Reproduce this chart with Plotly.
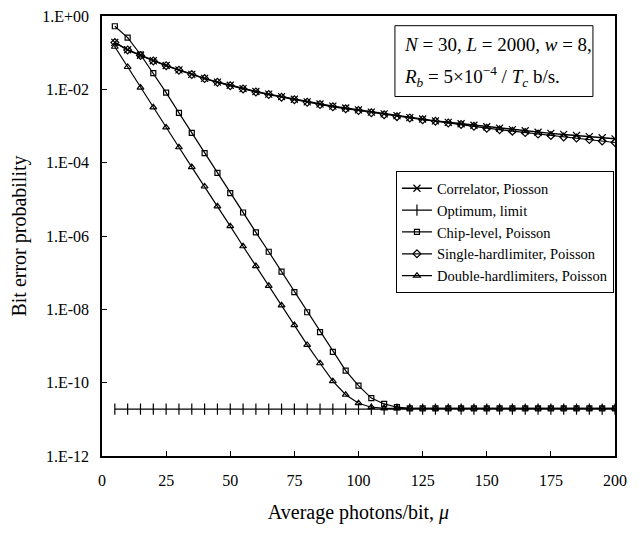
import plotly.graph_objects as go

mu = [5, 10, 15, 20, 25, 30, 35, 40, 45, 50, 55, 60, 65, 70, 75, 80, 85, 90, 95, 100,
      105, 110, 115, 120, 125, 130, 135, 140, 145, 150, 155, 160, 165, 170, 175, 180, 185, 190, 195, 200]

correlator = [0.191, 0.120, 0.0851, 0.0603, 0.0447, 0.0339, 0.0257, 0.0200, 0.0158, 0.0129,
              0.0105, 0.00871, 0.00741, 0.00631, 0.00537, 0.00457, 0.00398, 0.00347, 0.00309, 0.00275,
              0.00240, 0.00214, 0.00191, 0.00170, 0.00155, 0.00138, 0.00126, 0.00115, 0.00105, 0.000955,
              0.000871, 0.000794, 0.000741, 0.000676, 0.000631, 0.000589, 0.000550, 0.000513, 0.000479, 0.000447]

optimum = [1.9e-11] * 40

chip_level = [0.525, 0.257, 0.0891, 0.0275, 0.00813, 0.00229, 0.000646, 0.000182, 5.25e-5, 1.48e-5,
              4.37e-6, 1.26e-6, 3.72e-7, 1.07e-7, 2.95e-8, 8.32e-9, 2.40e-9, 6.92e-10, 2.14e-10, 8.32e-11,
              3.80e-11, 2.63e-11, 2.14e-11, 2.0e-11, 2.0e-11, 2.0e-11, 2.0e-11, 2.0e-11, 2.0e-11, 2.0e-11,
              2.0e-11, 2.0e-11, 2.0e-11, 2.0e-11, 2.0e-11, 2.0e-11, 2.0e-11, 2.0e-11, 2.0e-11, 2.0e-11]

single_hl = [0.188, 0.118, 0.0838, 0.0594, 0.0440, 0.0333, 0.0252, 0.0196, 0.0155, 0.0126,
             0.0102, 0.00848, 0.00720, 0.00612, 0.00520, 0.00442, 0.00384, 0.00334, 0.00296, 0.00263,
             0.00229, 0.00203, 0.00180, 0.00166, 0.00148, 0.00135, 0.00120, 0.00110, 0.000977, 0.000871,
             0.000794, 0.000724, 0.000661, 0.000603, 0.000550, 0.000501, 0.000468, 0.000427, 0.000389, 0.000355]

double_hl = [0.145, 0.0407, 0.0112, 0.00324, 0.000912, 0.000263, 7.59e-5, 2.24e-5, 6.46e-6, 1.86e-6,
             5.25e-7, 1.51e-7, 4.37e-8, 1.29e-8, 3.72e-9, 1.07e-9, 3.39e-10, 1.10e-10, 4.68e-11, 2.75e-11,
             2.14e-11, 2.0e-11, 2.0e-11, 2.0e-11, 2.0e-11, 2.0e-11, 2.0e-11, 2.0e-11, 2.0e-11, 2.0e-11,
             2.0e-11, 2.0e-11, 2.0e-11, 2.0e-11, 2.0e-11, 2.0e-11, 2.0e-11, 2.0e-11, 2.0e-11, 2.0e-11]

x_ticks = [0, 25, 50, 75, 100, 125, 150, 175, 200]
y_ticks = [1, 1e-2, 1e-4, 1e-6, 1e-8, 1e-10, 1e-12]
y_tick_text = ["1.E+00", "1.E-02", "1.E-04", "1.E-06", "1.E-08", "1.E-10", "1.E-12"]

FONT = "Liberation Serif, Times New Roman, serif"

series = [
    ("Correlator, Piosson", correlator, "x-thin-open", 7, 1.4),
    ("Optimum, limit", optimum, "line-ns-open", 8, 1.2),
    ("Chip-level, Poisson", chip_level, "square-open", 5, 1.2),
    ("Single-hardlimiter, Poisson", single_hl, "diamond-open", 6, 1.2),
    ("Double-hardlimiters, Poisson", double_hl, "triangle-up-open", 6, 1.2),
]

fig = go.Figure()
for name, vals, sym, size, lw in series:
    fig.add_trace(go.Scatter(
        x=mu, y=vals, name=name, mode="lines+markers",
        line=dict(color="black", width=lw),
        marker=dict(symbol=sym, size=size, color="black", line=dict(color="black", width=1.2)),
    ))

fig.update_layout(
    width=642, height=533,
    margin=dict(l=102, r=27, t=8, b=77),
    paper_bgcolor="white", plot_bgcolor="white",
    font=dict(family=FONT, color="black", size=16),
    showlegend=True,
    legend=dict(
        x=0.573, y=0.647, xanchor="left", yanchor="top",
        bordercolor="black", borderwidth=1, bgcolor="white",
        font=dict(family=FONT, size=14.5, color="black"),
        tracegroupgap=0,
    ),
    xaxis=dict(
        range=[0, 200], tickvals=x_ticks, ticks="inside", ticklen=5, tickwidth=1,
        tickcolor="black", showline=True, linecolor="black", linewidth=1.5, mirror=True,
        showgrid=False, zeroline=False, ticklabelstandoff=9,
        tickfont=dict(size=16),
        title=dict(text="Average photons/bit, <i>μ</i>", font=dict(size=20), standoff=17),
    ),
    yaxis=dict(
        type="log", range=[-12, 0], tickvals=y_ticks, ticktext=y_tick_text,
        ticks="inside", ticklen=5, tickwidth=1, tickcolor="black",
        showline=True, linecolor="black", linewidth=1.5, mirror=True,
        showgrid=False, zeroline=False, ticklabelstandoff=8,
        tickfont=dict(size=16),
        title=dict(text="Bit error probability", font=dict(size=20), standoff=10),
    ),
)

fig.add_shape(type="rect", xref="paper", yref="paper", x0=0.571, x1=0.957, y0=0.817, y1=0.978,
              line=dict(color="black", width=1), fillcolor="white", layer="below")
fig.add_annotation(xref="paper", yref="paper", x=0.585, y=0.935, xanchor="left", yanchor="middle",
                   showarrow=False, font=dict(family=FONT, size=19, color="black"),
                   text="<i>N</i> = 30, <i>L</i> = 2000, <i>w</i> = 8,")
fig.add_annotation(xref="paper", yref="paper", x=0.585, y=0.862, xanchor="left", yanchor="middle",
                   showarrow=False, font=dict(family=FONT, size=19, color="black"),
                   text="<i>R</i><sub><i>b</i></sub> = 5×10<sup>−4</sup> / <i>T</i><sub><i>c</i></sub> b/s.")

fig.write_html("out.html")
